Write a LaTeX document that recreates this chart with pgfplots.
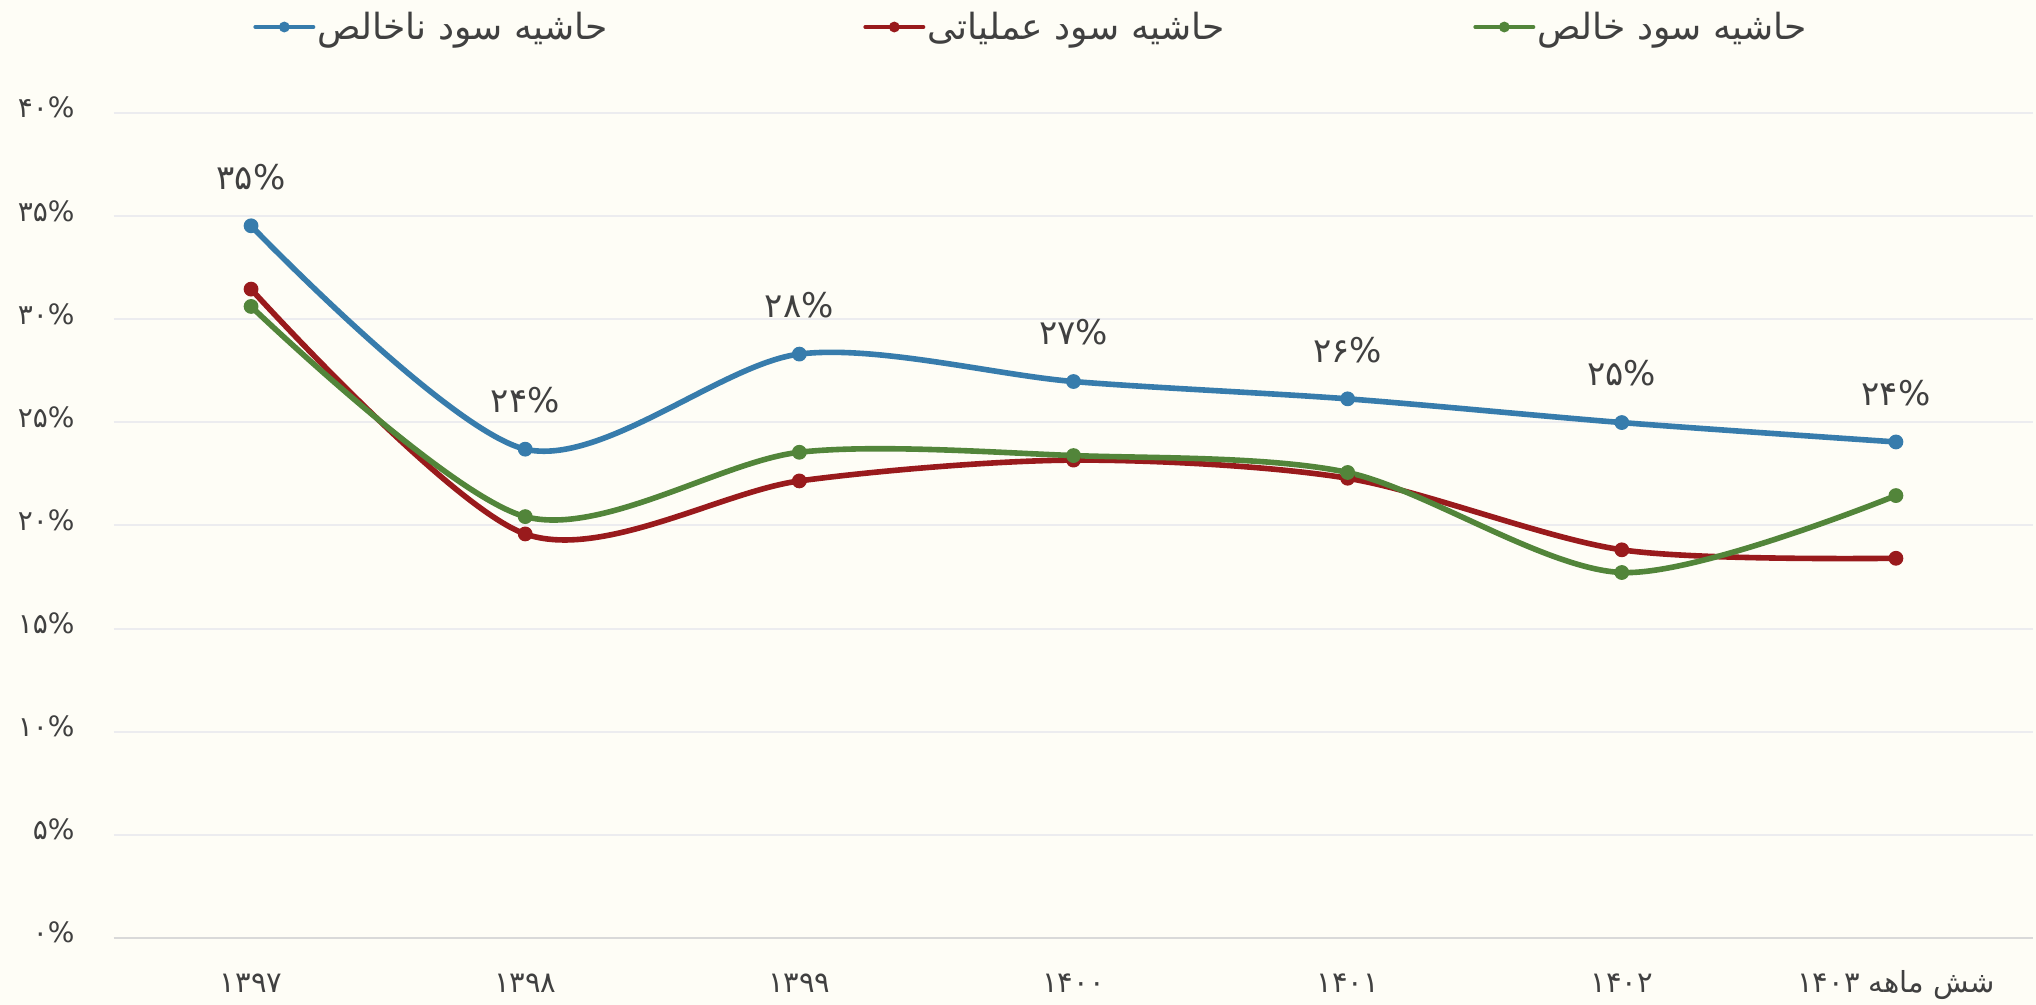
\documentclass[border=0pt]{standalone}
\usepackage{fontspec}
\usepackage{pgfplots}
\pgfplotsset{compat=1.18}
\TeXXeTstate=1
\newfontfamily\fafont[Script=Arabic]{DejaVu Sans}
\definecolor{bgc}{HTML}{FEFDF6}
\definecolor{cblue}{HTML}{377CAC}
\definecolor{cred}{HTML}{991A1C}
\definecolor{cgreen}{HTML}{52853A}
\definecolor{gridc}{HTML}{ECECEF}
\definecolor{basec}{HTML}{D9D9D9}
\definecolor{txtc}{HTML}{404040}
\begin{document}
\begin{tikzpicture}
\fill[bgc] (-57pt,-33.5pt) rectangle (961pt,469pt);
\begin{axis}[
  at={(0,0)}, anchor=south west,
  scale only axis, width=959.5pt, height=412.5pt,
  xmin=-0.5, xmax=6.5, ymin=0, ymax=40,
  axis line style={draw=none},
  tick style={draw=none},
  ymajorgrids, grid style={gridc, line width=1pt},
  extra y ticks={0}, extra y tick labels={},
  extra y tick style={grid style={basec, line width=1.2pt}},
  xtick={0,1,2,3,4,5,6},
  xticklabels={۱۳۹۷,۱۳۹۸,۱۳۹۹,۱۴۰۰,۱۴۰۱,۱۴۰۲,{\beginR شش ماهه \beginL۱۴۰۳\endL\endR}},
  ytick={0,5,10,15,20,25,30,35,40},
  yticklabels={۰\%,۵\%,۱۰\%,۱۵\%,۲۰\%,۲۵\%,۳۰\%,۳۵\%,۴۰\%},
  xticklabel style={font=\fafont\fontsize{14.5}{17}\selectfont, text=txtc, anchor=base, inner sep=0pt, yshift=-27.5pt},
  yticklabel style={font=\fafont\fontsize{14}{17}\selectfont, text=txtc, anchor=base east, inner sep=0pt, xshift=-19.5pt, yshift=-2.5pt},
  legend columns=3,
  legend cell align=left,
  legend style={at={(0.0724,1.1042)}, anchor=west, draw=none, fill=none,
    font=\fafont\fontsize{18}{21}\selectfont, text=txtc, inner sep=0pt,
    nodes={inner sep=1pt},
    /tikz/every even column/.append style={column sep=22pt}},
  legend image code/.code={\draw[line width=2pt, mark size=2.4pt, mark repeat=2, mark phase=2] plot coordinates {(0pt,0pt) (14.5pt,0pt) (29pt,0pt)};},
  every axis plot/.append style={line width=2.8pt, smooth, line join=round, line cap=round, mark=*, mark size=3.4pt},
]
\addplot[cblue, mark options={fill=cblue, draw=cblue, line width=0.6pt},
  nodes near coords, point meta=explicit symbolic,
  nodes near coords style={font=\fafont\fontsize{17}{20}\selectfont, text=txtc, anchor=center, yshift=24.5pt}]
  coordinates {(0,34.53)[۳۵\%] (1,23.70)[۲۴\%] (2,28.31)[۲۸\%] (3,26.98)[۲۷\%] (4,26.14)[۲۶\%] (5,24.99)[۲۵\%] (6,24.05)[۲۴\%]};
\addlegendentry{\makebox[250pt][l]{\beginR حاشیه سود ناخالص\endR}}
\addplot[cred, mark options={fill=cred, draw=cred, line width=0.6pt}]
  coordinates {(0,31.46) (1,19.59) (2,22.16) (3,23.17) (4,22.29) (5,18.82) (6,18.41)};
\addlegendentry{\makebox[250pt][l]{\beginR حاشیه سود عملیاتی\endR}}
\addplot[cgreen, mark options={fill=cgreen, draw=cgreen, line width=0.6pt}]
  coordinates {(0,30.62) (1,20.43) (2,23.55) (3,23.39) (4,22.57) (5,17.72) (6,21.45)};
\addlegendentry{\makebox[250pt][l]{\beginR حاشیه سود خالص\endR}}
\end{axis}
\pgfresetboundingbox
\useasboundingbox (-57pt,-33.5pt) rectangle (961pt,469pt);
\end{tikzpicture}
\end{document}
